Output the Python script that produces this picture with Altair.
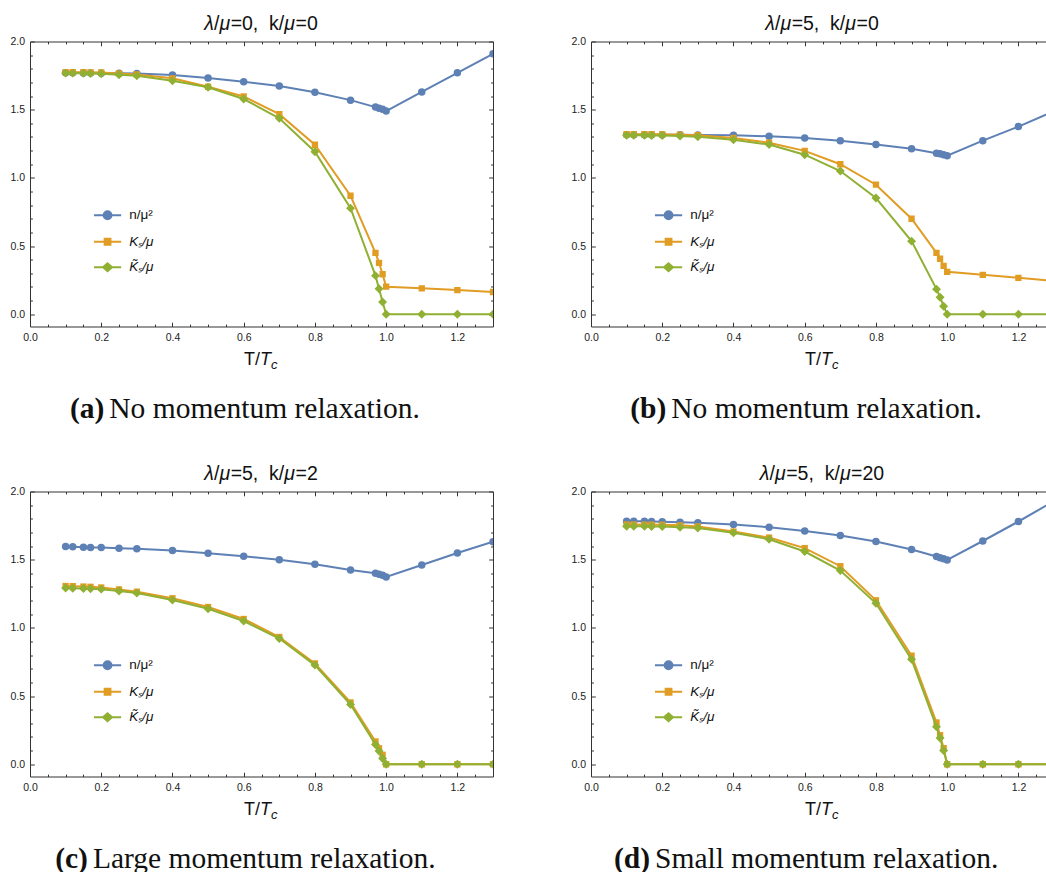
import altair as alt
import pandas as pd

# ---------------- data ----------------
T = [0.1, 0.12, 0.15, 0.17, 0.2, 0.25, 0.3, 0.4, 0.5, 0.6, 0.7, 0.8, 0.9,
     0.97, 0.98, 0.99, 1.0, 1.1, 1.2, 1.3]

# (a) lambda/mu=0, k/mu=0
n_a = [1.770, 1.770, 1.769, 1.769, 1.768, 1.767, 1.766, 1.755, 1.733, 1.704, 1.674,
       1.628, 1.570, 1.519, 1.511, 1.503, 1.490, 1.630, 1.770, 1.910]
K_a = [1.775, 1.775, 1.775, 1.774, 1.773, 1.766, 1.758, 1.730, 1.668, 1.597, 1.467,
       1.243, 0.869, 0.450, 0.377, 0.293, 0.202, 0.190, 0.177, 0.163]
Kt_a = [1.768, 1.768, 1.767, 1.766, 1.764, 1.756, 1.748, 1.712, 1.664, 1.578, 1.437,
        1.192, 0.778, 0.283, 0.187, 0.089, 0.0, 0.0, 0.0, 0.0]

# (b) lambda/mu=5, k/mu=0
n_b = [1.317, 1.317, 1.317, 1.317, 1.317, 1.316, 1.315, 1.312, 1.305, 1.292, 1.273,
       1.244, 1.214, 1.180, 1.177, 1.170, 1.163, 1.273, 1.376, 1.490]
K_b = [1.320, 1.320, 1.320, 1.320, 1.319, 1.317, 1.313, 1.293, 1.258, 1.198, 1.100,
       0.950, 0.700, 0.450, 0.407, 0.355, 0.311, 0.289, 0.267, 0.245]
Kt_b = [1.312, 1.312, 1.312, 1.311, 1.310, 1.307, 1.302, 1.280, 1.244, 1.170, 1.050,
        0.852, 0.536, 0.184, 0.125, 0.059, 0.0, 0.0, 0.0, 0.0]

# (c) lambda/mu=5, k/mu=2
n_c = [1.596, 1.595, 1.592, 1.590, 1.589, 1.584, 1.580, 1.567, 1.547, 1.525, 1.500,
       1.466, 1.424, 1.400, 1.393, 1.386, 1.373, 1.461, 1.549, 1.632]
K_c = [1.307, 1.306, 1.303, 1.301, 1.296, 1.282, 1.265, 1.217, 1.153, 1.065, 0.933,
       0.739, 0.453, 0.167, 0.117, 0.069, 0.0, 0.0, 0.0, 0.0]
Kt_c = [1.292, 1.291, 1.289, 1.287, 1.284, 1.270, 1.255, 1.205, 1.140, 1.050, 0.922,
        0.727, 0.438, 0.145, 0.097, 0.042, 0.0, 0.0, 0.0, 0.0]

# (d) lambda/mu=5, k/mu=20
n_d = [1.782, 1.781, 1.781, 1.780, 1.779, 1.774, 1.770, 1.758, 1.738, 1.711, 1.677,
       1.633, 1.574, 1.523, 1.515, 1.507, 1.498, 1.637, 1.780, 1.930]
K_d = [1.758, 1.758, 1.757, 1.757, 1.756, 1.752, 1.744, 1.706, 1.662, 1.585, 1.452,
       1.202, 0.796, 0.306, 0.213, 0.118, 0.0, 0.0, 0.0, 0.0]
Kt_d = [1.745, 1.745, 1.745, 1.744, 1.743, 1.738, 1.732, 1.697, 1.650, 1.560, 1.420,
        1.180, 0.769, 0.274, 0.193, 0.100, 0.0, 0.0, 0.0, 0.0]

series_names = ["n/μ²", "Kₛ/μ", "K̃ₛ/μ"]
# panel titles: lambda/mu value, k/mu value
title_lambda = ["0", "5", "5", "5"]
title_k = ["0", "0", "2", "20"]
caption_tags = ["(a)", "(b)", "(c)", "(d)"]
caption_texts = ["No momentum relaxation.", "No momentum relaxation.",
                 "Large momentum relaxation.", "Small momentum relaxation."]
x_tick_values = [round(0.05 * i, 2) for i in range(27)]
y_tick_values = [round(0.1 * i, 1) for i in range(21)]

# ---------------- styles ----------------
series_colors = ["#5E81B5", "#E19C24", "#8FB032"]
series_shapes = ["circle", "square", "diamond"]
series_sizes = [56, 40, 80]
legend_paths = [
    "M-3.4,0L3.4,0M1,0A1,1,0,1,1,-1,0A1,1,0,1,1,1,0Z",
    "M-3.4,0L3.4,0M-0.75,-0.75L0.75,-0.75L0.75,0.75L-0.75,0.75Z",
    "M-3.4,0L3.4,0M-1.15,0L0,-1L1.15,0L0,1Z",
]
FRAME = "#333333"
H = 285
FULL_W = 463
CUT_W = 455
SANS = "Liberation Sans"
SERIF = "Liberation Serif"
TITLE_SIZE = 19.5
# Arial-compatible advance widths (per em) used to lay out mixed-style titles
ADV = {"λ": 0.500, "μ": 0.576, "/": 0.278, "=": 0.584, ",": 0.278, " ": 0.278,
       "\u00a0": 0.278, "k": 0.500}
for d in "0123456789":
    ADV[d] = 0.556

XMAJ = "abs(datum.value*5 - round(datum.value*5)) < 0.001"
YMAJ = "abs(datum.value*2 - round(datum.value*2)) < 0.001"


def tick_size(maj):
    return alt.ExprRef(expr=f"({maj}) ? -4.3 : -2.4")


def one_row():
    return alt.Data(values=[{"k": 0}])


def label_text(text, x, y, size, font=SANS, align="left", style="normal", weight="normal"):
    return alt.Chart(one_row()).mark_text(
        text=text, align=align, baseline="alphabetic", font=font, fontSize=size,
        fontStyle=style, fontWeight=weight, color="#111").encode(
        x=alt.value(x), y=alt.value(y))


def title_layers(lam, k, cx, y):
    segs = [("λ", "italic"), ("/", "normal"), ("μ", "italic"),
            ("=" + lam + ",\u00a0 k/", "normal"), ("μ", "italic"), ("=" + k, "normal")]
    widths = [sum(ADV[c] for c in s) * TITLE_SIZE for s, _ in segs]
    x = cx - sum(widths) / 2
    out = []
    for (s, st), w in zip(segs, widths):
        out.append(label_text(s, x, y, TITLE_SIZE, style=st))
        x += w
    return out


def panel(n, K, Kt, lam, k, tag, text, cut, text_left):
    xmax = 1.2774 if cut else 1.3
    W = CUT_W if cut else FULL_W
    xt = [v for v in x_tick_values if v <= xmax + 1e-9]
    df = pd.DataFrame({
        "T": T * 3,
        "v": n + K + Kt,
        "s": sum([[s] * len(T) for s in series_names], []),
    })
    xs = alt.Scale(domain=[0, xmax], nice=False, zero=False)
    ys = alt.Scale(domain=[-0.09, 2.0], nice=False, zero=False)

    ax_bottom = alt.Axis(orient="bottom", values=xt, title=None, grid=False,
                         labelExpr=f"({XMAJ}) ? format(datum.value, '.1f') : ''",
                         tickSize=tick_size(XMAJ), labelPadding=9.8,
                         labelOverlap=False, labelFlush=False)
    ax_left = alt.Axis(orient="left", values=y_tick_values, title=None, grid=False,
                       labelExpr=f"({YMAJ}) ? format(datum.value, '.1f') : ''",
                       tickSize=tick_size(YMAJ), labelPadding=9.8,
                       labelOverlap=False, labelFlush=False)
    ax_top = alt.Axis(orient="top", values=xt, title=None, grid=False, labels=False,
                      tickSize=tick_size(XMAJ))
    ax_right = alt.Axis(orient="right", values=y_tick_values, title=None, grid=False,
                        labels=False, tickSize=tick_size(YMAJ))

    layers = []
    for i, s in enumerate(series_names):
        base = alt.Chart(df).transform_filter(alt.datum.s == s)
        line = base.mark_line(color=series_colors[i], strokeWidth=2, clip=True).encode(
            x=alt.X("T:Q", scale=xs, axis=ax_bottom if i == 0 else None),
            y=alt.Y("v:Q", scale=ys, axis=ax_left if i == 0 else None),
            order=alt.Order("T:Q"),
        )
        pts = base.mark_point(filled=True, opacity=1, color=series_colors[i],
                              shape=series_shapes[i], size=series_sizes[i], clip=True).encode(
            x=alt.X("T:Q", scale=xs, axis=ax_top if i == 0 else None),
            y=alt.Y("v:Q", scale=ys, axis=(ax_right if (i == 0 and not cut) else None)),
        )
        layers += [line, pts]

    leg = dict(orient="none", legendX=70.8, legendY=167.0, title=None, padding=0,
               labelOffset=15, symbolSize=64, symbolStrokeWidth=1.8, rowPadding=10.5,
               symbolOpacity=1,
               labelFont=SANS, labelFontSize=13.5, labelColor="#111",
               labelFontStyle=alt.ExprRef(expr="datum.value == 'n/μ²' ? 'normal' : 'italic'"))
    legend_layer = alt.Chart(df).transform_filter("false").mark_point(
        strokeWidth=1.8, opacity=1).encode(
        fill=alt.Fill("s:N", scale=alt.Scale(domain=series_names, range=series_colors),
                      legend=alt.Legend(**leg)),
        stroke=alt.Stroke("s:N", scale=alt.Scale(domain=series_names, range=series_colors),
                          legend=alt.Legend(**leg)),
        shape=alt.Shape("s:N", scale=alt.Scale(domain=series_names, range=legend_paths),
                        legend=alt.Legend(**leg)),
    )
    layers.append(legend_layer)

    # panel title
    layers += title_layers(lam, k, 231.0, -11.5)

    # x-axis title  T/T_c
    xb = 323.8
    layers.append(label_text("T/", 214.0, xb, 18))
    layers.append(label_text("T", 230.0, xb, 18, style="italic"))
    layers.append(label_text("c", 241.0, xb + 4, 13, style="italic"))

    # caption
    cb = 376.3
    layers.append(label_text(tag, text_left - 5, cb, 29.5, font=SERIF, align="right",
                             weight="bold"))
    layers.append(label_text(text, text_left, cb, 29.5, font=SERIF))

    return alt.layer(*layers).resolve_axis(x="independent", y="independent").properties(
        width=W, height=H)


pa = panel(n_a, K_a, Kt_a, title_lambda[0], title_k[0], caption_tags[0], caption_texts[0],
           False, 79.3)
pb = panel(n_b, K_b, Kt_b, title_lambda[1], title_k[1], caption_tags[1], caption_texts[1],
           True, 80.3)
pc = panel(n_c, K_c, Kt_c, title_lambda[2], title_k[2], caption_tags[2], caption_texts[2],
           False, 62.9)
pd_ = panel(n_d, K_d, Kt_d, title_lambda[3], title_k[3], caption_tags[3], caption_texts[3],
            True, 64.1)

ind = dict(fill="independent", stroke="independent", shape="independent")
top = alt.hconcat(pa, pb, spacing=76).resolve_scale(**ind)
bottom = alt.hconcat(pc, pd_, spacing=76).resolve_scale(**ind)

chart = alt.vconcat(top, bottom, spacing=40).resolve_scale(**ind).properties(
    padding={"left": 9, "top": 13.5, "right": 0, "bottom": 0},
    background="white",
).configure_view(stroke=None).configure_axis(
    domainColor=FRAME, tickColor=FRAME, domainWidth=1, tickWidth=1,
    labelFont=SANS, labelFontSize=10.5, labelColor="#222",
)

chart.save("out.html", embed_options={"renderer": "svg", "actions": False})
